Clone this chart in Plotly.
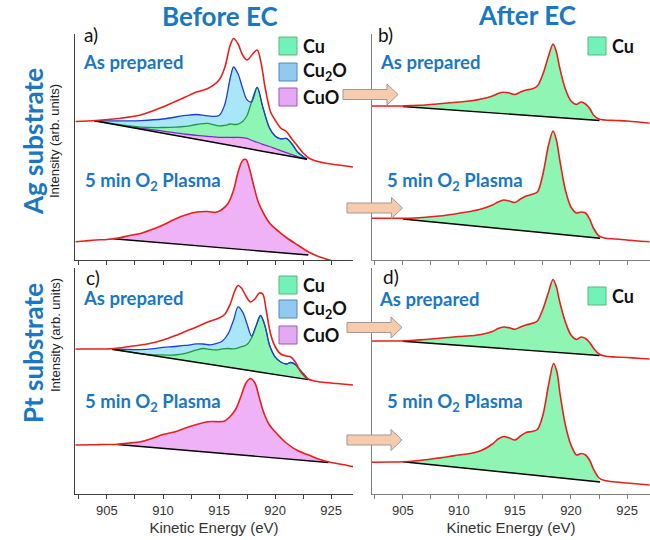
import numpy as np
import plotly.graph_objects as go

W, H = 650, 540

# ---------------- DATA (intensities in arbitrary units, offsets included) ----------------
# Panel a : Ag substrate, before EC, "As prepared"
a1_env_E = [902.2, 904, 906, 908, 910, 911, 912, 913, 914, 915, 915.5, 916, 916.3, 916.7, 917.1, 917.5,
            918, 918.4, 918.8, 919.1, 919.6, 920, 920.5, 921, 921.5, 922, 922.5, 923, 924, 925, 926, 926.95]
a1_env_I = [138.5, 139.5, 141.5, 145, 153, 158, 163, 168, 171.5, 180, 192, 215, 221.5, 216, 205, 200,
            206, 210, 194, 173, 148, 140, 132, 128.5, 121, 114, 107, 102, 98, 96, 94.5, 93]
a1_bg_E = [903.85, 922.85]
a1_bg_I = [139.3, 100.7]
a1_E = [903.85, 906, 908, 910, 912, 913, 914, 915, 915.5, 916, 916.3, 916.7, 917.1, 917.5, 917.9,
        918.4, 918.9, 919.5, 920, 920.5, 921, 921.5, 922, 922.85]
a1_CuO = [0, 0.5, 1, 2, 3, 4, 5, 6, 7, 8, 8.5, 9.5, 10, 10, 9, 8, 7, 6, 5, 4, 3, 2, 1, 0]
a1_Cu = [0, 0.1, 1.1, 3.7, 7.8, 10.8, 12.9, 11.4, 11.9, 13.4, 13, 13.3, 16.1, 23, 38.3,
         54.8, 37.3, 18.5, 12.5, 11.6, 14.1, 10.6, 4.6, 0]
a1_Cu2O = [0, 3.5, 6.5, 8.5, 11, 10, 7.5, 10.5, 20.5, 46, 57.5, 50, 33.5, 15.5, 0,
           0, 0, 0, 0, 0, 0, 0, 0, 0]

# Panel a : "5 min O2 Plasma"
a2_env_E = [902.2, 903, 904, 905, 906, 907, 908, 909, 910, 911, 912, 913, 914, 914.7, 915.2, 915.8,
            916.3, 916.7, 917.1, 917.4, 917.7, 918.1, 918.5, 919, 919.5, 920, 921, 922, 923, 924, 925, 926]
a2_env_I = [18.3, 19, 20, 20.5, 22, 24.5, 26.5, 30.5, 35, 40.5, 45, 48, 48.5, 47.7, 50, 56.5,
            70, 88, 99.5, 100.5, 92, 74, 58, 46, 37, 31.7, 22.5, 15, 8, 3, -0.5, -3]
a2_bg_E = [905.56, 922.97]
a2_bg_I = [21.3, 5.0]
a2_E = [905.56, 906, 907, 908, 909, 910, 911, 912, 913, 914, 914.7, 915.2, 915.8, 916.3, 916.7,
        917.1, 917.4, 917.7, 918.1, 918.5, 919, 919.5, 920, 921, 922, 922.97]
a2_CuO = [0, 1.1, 4.5, 7.5, 12.4, 17.9, 24.3, 29.7, 33.7, 35.1, 35, 37.7, 44.8, 58.8, 77.1,
          89, 90.3, 82.1, 64.4, 48.8, 37.3, 28.8, 23.9, 15.7, 9.1, 1.5]

# Panel b : Ag substrate, after EC
b_env_E = [902.2, 904, 905, 906, 907, 908, 909, 910, 911, 912, 913, 913.5, 914, 914.5, 915, 915.5,
           916, 916.5, 917, 917.5, 918, 918.4, 918.7, 919, 919.5, 920, 920.5, 920.9, 921.3, 921.7,
           922, 922.5, 923, 924, 925, 926, 927]
b1_env_I = [154, 154, 154, 154.5, 155, 156, 157, 158, 159, 161, 164, 166.5, 167.7, 167, 165.5, 168,
            170, 171, 174, 186, 204, 216, 208, 192, 171, 159, 155.5, 158, 156, 151,
            145, 141, 140, 139.5, 139, 138, 136.7]
b1_bg_E = [905, 922.55]
b1_bg_I = [153.5, 139.5]
b1_E = [905, 906, 907, 908, 909, 910, 911, 912, 913, 913.5, 914, 914.5, 915, 915.5, 916, 916.5,
        917, 917.5, 918, 918.4, 918.7, 919, 919.5, 920, 920.5, 920.9, 921.3, 921.7, 922, 922.55]
b1_Cu = [0, 1.8, 3.1, 4.9, 6.7, 8.5, 10.3, 13.1, 16.9, 19.8, 21.4, 21.1, 20, 22.9, 25.3, 26.7,
         30.1, 42.5, 60.9, 73.2, 65.4, 49.7, 29.1, 17.5, 14.4, 17.2, 15.5, 10.8, 5, 0]

b2_env_I = [41.7, 41.7, 41.7, 42, 42.7, 43.7, 45, 46.7, 48.5, 51, 55, 58, 60, 59, 57.5, 61,
            64, 65.5, 68, 86, 115, 129, 120, 100, 70, 53, 47, 48, 47, 40,
            32, 24, 22, 21, 20, 19, 18.3]
b2_bg_E = [905, 922.6]
b2_bg_I = [41.0, 21.7]
b2_E = [905, 906, 907, 908, 909, 910, 911, 912, 913, 913.5, 914, 914.5, 915, 915.5, 916, 916.5,
        917, 917.5, 918, 918.4, 918.7, 919, 919.5, 920, 920.5, 920.9, 921.3, 921.7, 922, 922.6]
b2_Cu = [0, 2.1, 3.9, 6, 8.4, 11.2, 14, 17.6, 22.7, 26.3, 28.8, 28.4, 27.4, 31.5, 35, 37.1,
         40.1, 58.7, 88.2, 102.6, 94, 74.3, 44.8, 28.4, 22.9, 24.4, 23.8, 17.2, 9.6, 0]

# Panel c : Pt substrate, before EC
c1_env_E = [902.2, 904, 905, 906, 907, 908, 909, 910, 911, 912, 913, 914, 915, 915.5, 916, 916.4,
            916.7, 917, 917.4, 917.8, 918.2, 918.6, 918.9, 919.2, 919.6, 920, 920.5, 921, 921.4,
            921.8, 922.3, 922.8, 923.5, 924.5, 925.5, 927]
c1_env_I = [145, 145, 145, 146, 147.5, 149, 151, 154, 158, 162.5, 167, 172, 176, 179.5, 190, 203,
            208.5, 206, 198, 192, 195, 201, 200, 184, 160, 147.5, 140, 138, 137,
            132, 122, 116, 113, 111.5, 110.5, 109]
c1_bg_E = [905.45, 922.97]
c1_bg_I = [144.7, 114.4]
c1_E = [905.45, 906, 907, 908, 909, 910, 911, 912, 913, 913.6, 914.2, 914.8, 915.3, 915.8, 916.3,
        916.7, 917.1, 917.5, 917.9, 918.3, 918.7, 919.1, 919.5, 920, 920.5, 921, 921.4, 921.8,
        922.3, 922.97]
c1_Cu = [0, 0, 0, 0, 0.7, 2.2, 3.9, 7.2, 12.4, 14.9, 15, 15.5, 17.4, 18.7, 19.1,
         20.8, 23, 25.6, 32.8, 45.5, 56.7, 46.9, 28.6, 17.5, 13.3, 12.2, 14.4, 13.1, 7.4, 0]
c1_Cu2O = [0, 1, 2.5, 4, 5.8, 7.5, 8.5, 8, 6, 4.5, 4.5, 6.5, 8, 14.5, 29,
           41, 34.5, 20.5, 2, 0, 0, 0, 0, 0, 0, 0, 0, 0, 0, 0]

c2_env_E = [902.2, 904, 905, 906, 907, 908, 909, 910, 911, 912, 913, 914, 914.5, 915, 915.5, 916,
            916.5, 917, 917.4, 917.8, 918.2, 918.6, 919, 919.5, 920, 921, 922, 923, 924, 925, 926, 927]
c2_env_I = [49, 49.3, 49.5, 49.8, 51, 52.3, 55.5, 59.5, 62, 66, 69.5, 72.3, 72.5, 72.3, 73, 77.5,
            85, 99, 111, 115.5, 111, 96, 81, 69, 62.3, 51, 43.5, 39, 34.5, 31.5, 29.5, 27.3]
c2_bg_E = [905.94, 924.76]
c2_bg_I = [49.5, 31.5]
c2_E = [905.94, 907, 908, 909, 910, 911, 912, 913, 914, 914.5, 915, 915.5, 916, 916.5, 917, 917.4,
        917.8, 918.2, 918.6, 919, 919.5, 920, 921, 922, 923, 924, 924.76]
c2_CuO = [0.3, 2.5, 4.8, 8.9, 13.9, 17.3, 22.3, 26.8, 30.5, 31.2, 31.5, 32.6, 37.6, 45.6, 60.1, 72.5,
          77.3, 73.2, 58.6, 43.9, 32.4, 26.2, 15.8, 9.3, 5.7, 2.2, 0]

# Panel d : Pt substrate, after EC
d1_env_I = [153, 153, 153, 153.7, 154.5, 155.5, 156.5, 157.5, 158.2, 159.5, 162.5, 165.5, 167, 166.2,
            164.7, 167, 169, 170.5, 173, 185, 202, 214.5, 207, 192, 172, 159, 154.5, 157, 155.5,
            151, 146, 140, 138, 137, 136.5, 135.8, 135]
d1_bg_E = [905, 922.55]
d1_bg_I = [152.7, 138.5]
d1_E = b1_E
d1_Cu = [0, 1.8, 3.4, 5.2, 7, 8.8, 10.3, 12.4, 16.3, 19.7, 21.6, 21.2, 20.1, 22.8, 25.2, 27.1,
         30, 42.4, 59.8, 72.6, 65.4, 50.6, 31, 18.4, 14.3, 17.2, 16, 11.8, 7.1, 0]

d2_env_E = [902.2, 904, 905, 906, 907, 908, 909, 910, 911, 912, 913, 913.5, 914, 914.5, 915, 915.5,
            916, 916.5, 917, 917.5, 918, 918.45, 918.75, 919, 919.5, 920, 920.5, 920.9, 921.3, 921.7,
            922, 922.5, 923, 924, 925, 926, 927]
d2_env_I = [31.7, 32, 32.3, 33, 34.2, 35.7, 37.2, 39, 40.5, 43.5, 50, 55, 57.5, 56, 54, 58,
            61.5, 62.5, 64.5, 79, 109, 130.5, 122, 102, 69, 49, 39, 40.5, 39, 33,
            25, 16, 13.5, 12, 11, 10, 9]
d2_bg_E = [905, 922.6]
d2_bg_I = [32.3, 12.0]
d2_E = [905, 906, 907, 908, 909, 910, 911, 912, 913, 913.5, 914, 914.5, 915, 915.5, 916, 916.5,
        917, 917.5, 918, 918.45, 918.75, 919, 919.5, 920, 920.5, 920.9, 921.3, 921.7, 922, 922.6]
d2_Cu = [0, 1.8, 4.2, 6.8, 9.5, 12.4, 15.1, 19.2, 26.9, 32.4, 35.5, 34.5, 33.1, 37.7, 41.7, 43.3,
         45.9, 60.9, 91.5, 113.4, 105.3, 85.6, 53.2, 33.7, 24.3, 26.3, 25.2, 19.7, 12, 0]

x_ticks = [905, 910, 915, 920, 925]

# ---------------- STYLE ----------------
BLUE_TXT = "#1B77C2"
RED = "#E5211D"
CU_FILL, CU_LINE = "#8FF5B4", "#1E9A3E"
CU2O_FILL, CU2O_LINE = "#A9E6F7", "#1F3FD2"
CUO_FILL, CUO_LINE = "#F0B2F6", "#7B2FBE"

fig = go.Figure()


def add_spectrum(ax, env_E, env_I, bg_E, bg_I, E, comps):
    xa, ya = "x" + ax, "y" + ax
    base = np.interp(E, bg_E, bg_I)
    fig.add_trace(go.Scatter(x=E, y=base, mode="lines", line=dict(width=0, color="rgba(0,0,0,0)"),
                             hoverinfo="skip", showlegend=False, xaxis=xa, yaxis=ya))
    cum = base.copy()
    for vals, fillc, linec in comps:
        cum = cum + np.array(vals, dtype=float)
        fig.add_trace(go.Scatter(
            x=E, y=cum, mode="lines", fill="tonexty", fillcolor=fillc,
            line=dict(color=linec if linec else "rgba(0,0,0,0)", width=1.3 if linec else 0,
                      shape="spline", smoothing=0.9),
            showlegend=False, xaxis=xa, yaxis=ya))
    fig.add_trace(go.Scatter(x=bg_E, y=bg_I, mode="lines", line=dict(color="black", width=1.4),
                             showlegend=False, xaxis=xa, yaxis=ya))
    fig.add_trace(go.Scatter(x=env_E, y=env_I, mode="lines",
                             line=dict(color=RED, width=1.6, shape="spline", smoothing=0.9),
                             showlegend=False, xaxis=xa, yaxis=ya))


# a
add_spectrum("", a1_env_E, a1_env_I, a1_bg_E, a1_bg_I, a1_E,
             [(a1_CuO, CUO_FILL, CUO_LINE), (a1_Cu, CU_FILL, CU_LINE), (a1_Cu2O, CU2O_FILL, CU2O_LINE)])
add_spectrum("", a2_env_E, a2_env_I, a2_bg_E, a2_bg_I, a2_E, [(a2_CuO, CUO_FILL, None)])
# b
add_spectrum("2", b_env_E, b1_env_I, b1_bg_E, b1_bg_I, b1_E, [(b1_Cu, CU_FILL, None)])
add_spectrum("2", b_env_E, b2_env_I, b2_bg_E, b2_bg_I, b2_E, [(b2_Cu, CU_FILL, None)])
# c
add_spectrum("3", c1_env_E, c1_env_I, c1_bg_E, c1_bg_I, c1_E,
             [(c1_Cu, CU_FILL, CU_LINE), (c1_Cu2O, CU2O_FILL, CU2O_LINE)])
add_spectrum("3", c2_env_E, c2_env_I, c2_bg_E, c2_bg_I, c2_E, [(c2_CuO, CUO_FILL, None)])
# d
add_spectrum("4", b_env_E, d1_env_I, d1_bg_E, d1_bg_I, d1_E, [(d1_Cu, CU_FILL, None)])
add_spectrum("4", d2_env_E, d2_env_I, d2_bg_E, d2_bg_I, d2_E, [(d2_Cu, CU_FILL, None)])


def px(x):
    return x / W


def py(y):
    return 1 - y / H


TICKFONT = dict(family="Liberation Sans", size=13, color="#333333")


def xaxis_cfg(domain, rng, anchor, labels, lc):
    return dict(domain=domain, range=rng, anchor=anchor, showline=True, linecolor=lc, linewidth=1,
                ticks="outside", ticklen=4, tickcolor=lc, tickwidth=1, tickvals=x_ticks,
                minor=dict(dtick=2.5, tick0=905, ticks="outside", ticklen=4, tickcolor=lc, tickwidth=1),
                showgrid=False, zeroline=False, showticklabels=labels, tickfont=TICKFONT,
                automargin=False,
                title=dict(text="Kinetic Energy (eV)" if labels else "",
                           font=dict(family="Liberation Sans", size=15, color="#333333"), standoff=5))


def yaxis_cfg(domain, rng, anchor, lc):
    return dict(domain=domain, range=rng, anchor=anchor, showline=True, linecolor=lc, linewidth=1,
                ticks="", showticklabels=False, showgrid=False, zeroline=False, automargin=False)


dx_left = [px(75), px(353)]
dx_right = [px(372), 1.0]
dy_top = [py(260), py(34)]
dy_bot = [py(494), py(268)]

fig.update_layout(
    width=W, height=H, margin=dict(l=0, r=0, t=0, b=0, autoexpand=False),
    paper_bgcolor="white", plot_bgcolor="white", showlegend=False,
    xaxis=xaxis_cfg(dx_left, [902.15, 926.95], "y", False, "#404040"),
    yaxis=yaxis_cfg(dy_top, [0, 226], "x", "#404040"),
    xaxis2=xaxis_cfg(dx_right, [902.25, 927.05], "y2", False, "#808080"),
    yaxis2=yaxis_cfg(dy_top, [0, 226], "x2", "#808080"),
    xaxis3=xaxis_cfg(dx_left, [902.15, 926.95], "y3", True, "#404040"),
    yaxis3=yaxis_cfg(dy_bot, [0, 226], "x3", "#404040"),
    xaxis4=xaxis_cfg(dx_right, [902.25, 927.05], "y4", True, "#808080"),
    yaxis4=yaxis_cfg(dy_bot, [0, 226], "x4", "#808080"),
)

annotations = []


def ann(text, x, y, size, color, bold=False, xanchor="left", angle=0, family="Lato"):
    annotations.append(dict(text=f"<b>{text}</b>" if bold else text, x=px(x), y=py(y),
                            xref="paper", yref="paper", showarrow=False, xanchor=xanchor,
                            yanchor="middle", textangle=angle, borderpad=0,
                            font=dict(family=family, size=size, color=color)))


ann("Before EC", 220, 16, 26, BLUE_TXT, True, "center")
ann("After EC", 527, 15, 26, BLUE_TXT, True, "center")
ann("Ag substrate", 33, 142, 26, BLUE_TXT, True, "center", -90)
ann("Pt substrate", 33, 353, 26, BLUE_TXT, True, "center", -90)
ann("Intensity (arb. units)", 55, 141, 13, "#222222", False, "center", -90, "Liberation Sans")
ann("Intensity (arb. units)", 55, 335, 13, "#222222", False, "center", -90, "Liberation Sans")

for lab, x, y in [("a)", 83, 35), ("b)", 377, 34), ("c)", 85, 277), ("d)", 382, 276)]:
    ann(lab, x, y, 19, "#111111")
for x, y in [(82, 62), (379, 62), (82, 298), (378, 299)]:
    ann("As prepared", x, y, 18.5, BLUE_TXT, True)
for x, y in [(84, 181), (386, 181), (84, 402), (386, 402)]:
    ann("5 min O<sub>2</sub> Plasma", x, y, 18.5, BLUE_TXT, True)

shapes = []
legend_sets = [
    (279, [37, 63, 88], ["Cu", "Cu<sub>2</sub>O", "CuO"]),
    (279, [276, 300, 326], ["Cu", "Cu<sub>2</sub>O", "CuO"]),
    (588, [37], ["Cu"]),
    (588, [287], ["Cu"]),
]
box_style = {"Cu": ("#72F2B8", "#5DB872"), "Cu<sub>2</sub>O": ("#93C9EE", "#4A86C5"),
             "CuO": ("#E3A9F2", "#9C59B8")}
for x0, tops, names in legend_sets:
    for t, name in zip(tops, names):
        fc, lc = box_style[name]
        shapes.append(dict(type="rect", xref="paper", yref="paper", x0=px(x0), x1=px(x0 + 18),
                           y0=py(t + 18), y1=py(t), fillcolor=fc, line=dict(color=lc, width=1)))
        ann(name, x0 + 23, t + 9, 18, "#111111", True)


def arrow(x0, tip_x, cy):
    hb = tip_x - 11
    pts = [(x0, cy - 5), (hb, cy - 5), (hb, cy - 10.5), (tip_x, cy), (hb, cy + 10.5),
           (hb, cy + 5), (x0, cy + 5)]
    path = "M " + " L ".join(f"{px(a):.5f},{py(b):.5f}" for a, b in pts) + " Z"
    shapes.append(dict(type="path", xref="paper", yref="paper", path=path,
                       fillcolor="#F8CBAD", line=dict(color="#9A9A9A", width=1)))


arrow(343, 398, 94.5)
arrow(347, 402.5, 208)
arrow(347, 402, 327.5)
arrow(347, 402, 440)

fig.update_layout(annotations=annotations, shapes=shapes)
fig.write_html("out.html", config={"displayModeBar": False},
               post_script="document.body.style.margin='0';document.body.style.overflow='hidden';")
